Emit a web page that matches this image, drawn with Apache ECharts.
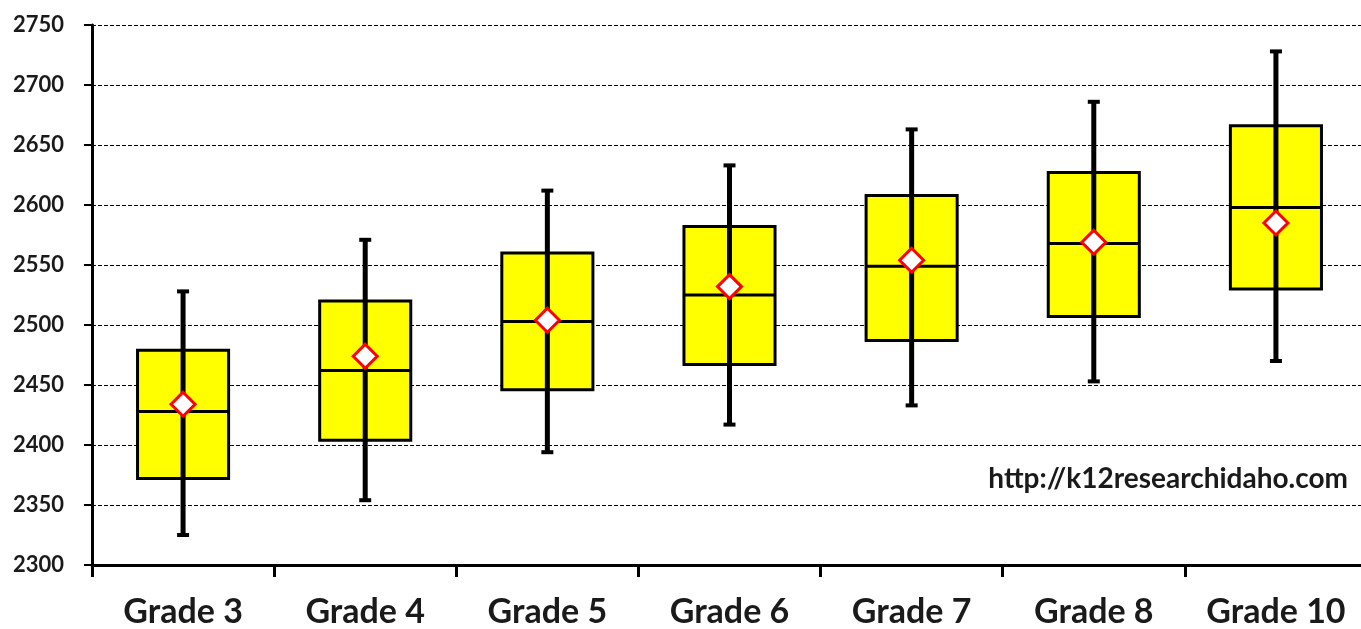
<!DOCTYPE html>
<html>
<head>
<meta charset="utf-8">
<script src="https://cdn.jsdelivr.net/npm/echarts@6/dist/echarts.min.js"></script>
<style>
html,body{margin:0;padding:0;background:#fff;overflow:hidden;width:1361px;height:629px;}
#wrap{width:1361px;height:629px;overflow:hidden;position:relative;}
#main{width:1367px;height:629px;position:absolute;left:0;top:0;}
</style>
</head>
<body>
<div id="wrap"><div id="main"></div></div>
<script>
const categories = ['Grade 3','Grade 4','Grade 5','Grade 6','Grade 7','Grade 8','Grade 10'];
const mins    = [2325, 2354, 2394, 2417, 2433, 2453, 2470];
const q1s     = [2372, 2404, 2446, 2467, 2487, 2507, 2530];
const medians = [2428, 2462, 2503, 2525, 2549, 2568, 2598];
const q3s     = [2479, 2520, 2560, 2582, 2608, 2627, 2666];
const maxs    = [2528, 2571, 2612, 2633, 2663, 2686, 2728];
const means   = [2434, 2474, 2504, 2532, 2554, 2569, 2585];
const yTicks  = [2300, 2350, 2400, 2450, 2500, 2550, 2600, 2650, 2700, 2750];

const boxData = categories.map((c, i) => [i, mins[i], q1s[i], medians[i], q3s[i], maxs[i]]);
const meanData = categories.map((c, i) => [i, means[i]]);

const chart = echarts.init(document.getElementById('main'));
chart.setOption({
  animation: false,
  backgroundColor: '#fff',
  grid: { left: 92, top: 25, bottom: 61, right: 0, containLabel: false },
  xAxis: {
    type: 'category',
    data: categories,
    boundaryGap: true,
    axisLine: { lineStyle: { color: '#000', width: 3 } },
    axisTick: { show: true, alignWithLabel: false, length: 12, lineStyle: { color: '#000', width: 3 } },
    axisLabel: { color: '#1a1a1a', fontFamily: 'Lato', fontWeight: 'bold', fontSize: 34, margin: 30 },
    splitLine: { show: false }
  },
  yAxis: {
    type: 'value',
    min: yTicks[0],
    max: yTicks[yTicks.length - 1],
    interval: 50,
    axisLine: { show: true, lineStyle: { color: '#000', width: 3 } },
    axisTick: { show: true, length: 8, lineStyle: { color: '#000', width: 2 } },
    axisLabel: { color: '#1a1a1a', fontFamily: 'Lato', fontWeight: 'bold', fontSize: 22, margin: 28,
                 formatter: function (v) { return String(v); } },
    splitLine: { show: true, lineStyle: { color: '#000', width: 1, type: [4, 2] } }
  },
  graphic: [{
    type: 'text',
    right: 19,
    top: 465,
    style: { text: 'http://k12researchidaho.com', fill: '#1a1a1a', font: 'bold 28px Lato' },
    z: 100
  }],
  series: [{
    type: 'custom',
    data: boxData,
    encode: { x: 0, y: [1, 2, 3, 4, 5] },
    z: 5,
    renderItem: function (params, api) {
      const i = api.value(0);
      const pMin = api.coord([i, api.value(1)]);
      const pQ1 = api.coord([i, api.value(2)]);
      const pMed = api.coord([i, api.value(3)]);
      const pQ3 = api.coord([i, api.value(4)]);
      const pMax = api.coord([i, api.value(5)]);
      const bw = api.size([1, 0])[0] * 0.5;
      const x = pMed[0];
      const cap = 6;
      return {
        type: 'group',
        children: [
          { type: 'rect', shape: { x: x - bw / 2, y: pQ3[1], width: bw, height: pQ1[1] - pQ3[1] },
            style: { fill: '#ffff00', stroke: '#000', lineWidth: 3 } },
          { type: 'line', shape: { x1: x, y1: pMax[1], x2: x, y2: pMin[1] },
            style: { stroke: '#000', lineWidth: 5 } },
          { type: 'line', shape: { x1: x - cap, y1: pMax[1], x2: x + cap, y2: pMax[1] },
            style: { stroke: '#000', lineWidth: 4 } },
          { type: 'line', shape: { x1: x - cap, y1: pMin[1], x2: x + cap, y2: pMin[1] },
            style: { stroke: '#000', lineWidth: 4 } },
          { type: 'line', shape: { x1: x - bw / 2, y1: pMed[1], x2: x + bw / 2, y2: pMed[1] },
            style: { stroke: '#000', lineWidth: 3 } }
        ]
      };
    }
  }, {
    type: 'scatter',
    data: meanData,
    symbol: 'diamond',
    symbolSize: [24, 24],
    z: 10,
    itemStyle: { color: '#fff', borderColor: '#ff0000', borderWidth: 3, opacity: 1 }
  }]
});
</script>
</body>
</html>
